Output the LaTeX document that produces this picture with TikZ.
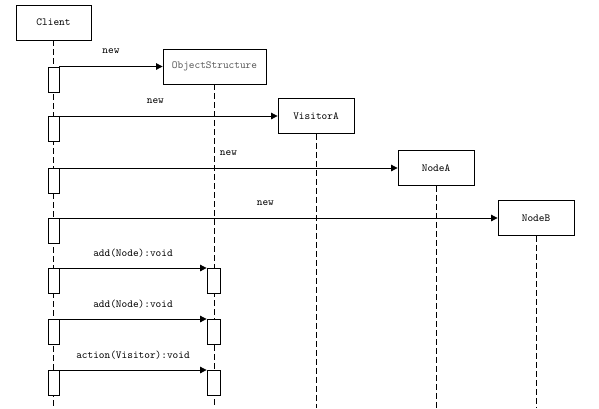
\documentclass[tikz,border=0pt]{standalone}
\usetikzlibrary{arrows.meta}
\begin{document}
\begin{tikzpicture}[x=1pt,y=-1pt,
  every node/.style={font=\ttfamily\fontsize{10.8}{12}\selectfont},
  obj/.style={draw,line width=0.8pt,minimum height=35pt,inner sep=0pt,fill=white},
  life/.style={line width=0.8pt,dash pattern=on 6pt off 3pt},
  bar/.style={draw,line width=0.8pt,fill=white,minimum width=11pt,minimum height=25pt,inner sep=0pt},
  msg/.style={line width=0.8pt,-{Triangle[length=6.5pt,width=6.5pt]}},
  lbl/.style={yshift=15pt}]
\useasboundingbox (0,0) rectangle (599,408);
% objects
\node[obj,minimum width=75pt] (client) at (53.5,22.5) {Client};
\node[obj,minimum width=103pt,text=black!65] (os) at (214.5,66.5) {ObjectStructure};
\node[obj,minimum width=76pt] (va) at (316,116) {VisitorA};
\node[obj,minimum width=76pt] (na) at (436,168) {NodeA};
\node[obj,minimum width=76pt] (nb) at (536,218) {NodeB};
% lifeline ends
\coordinate (clientEnd) at (53.5,408);
\coordinate (osEnd) at (214.5,408);
\coordinate (vaEnd) at (316,408);
\coordinate (naEnd) at (436,408);
\coordinate (nbEnd) at (536,408);
\draw[life] (client.south) -- (clientEnd);
\draw[life] (os.south) -- (osEnd);
\draw[life] (va.south) -- (vaEnd);
\draw[life] (na.south) -- (naEnd);
\draw[life] (nb.south) -- (nbEnd);
% activation bars
\node[bar,anchor=north] (c1) at (53.5,66.5) {};
\node[bar,anchor=north] (c2) at (53.5,116) {};
\node[bar,anchor=north] (c3) at (53.5,168) {};
\node[bar,anchor=north] (c4) at (53.5,218) {};
\node[bar,anchor=north] (c5) at (53.5,268) {};
\node[bar,anchor=north] (c6) at (53.5,319) {};
\node[bar,anchor=north] (c7) at (53.5,370) {};
\node[bar,minimum width=13pt,anchor=north] (o5) at (213.5,268) {};
\node[bar,minimum width=13pt,anchor=north] (o6) at (213.5,319) {};
\node[bar,minimum width=13pt,anchor=north] (o7) at (213.5,370) {};
% messages
\draw[msg] (c1.north east) -- (os.west) node[pos=0.5,lbl] {new};
\draw[msg] (c2.north east) -- (va.west) node[pos=0.44,lbl] {new};
\draw[msg] (c3.north east) -- (na.west) node[pos=0.5,lbl] {new};
\draw[msg] (c4.north east) -- (nb.west) node[pos=0.47,lbl] {new};
\draw[msg] (c5.north east) -- (o5.north west) node[pos=0.5,lbl] {add(Node):void};
\draw[msg] (c6.north east) -- (o6.north west) node[pos=0.5,lbl] {add(Node):void};
\draw[msg] (c7.north east) -- (o7.north west) node[pos=0.5,lbl] {action(Visitor):void};
\end{tikzpicture}
\end{document}
